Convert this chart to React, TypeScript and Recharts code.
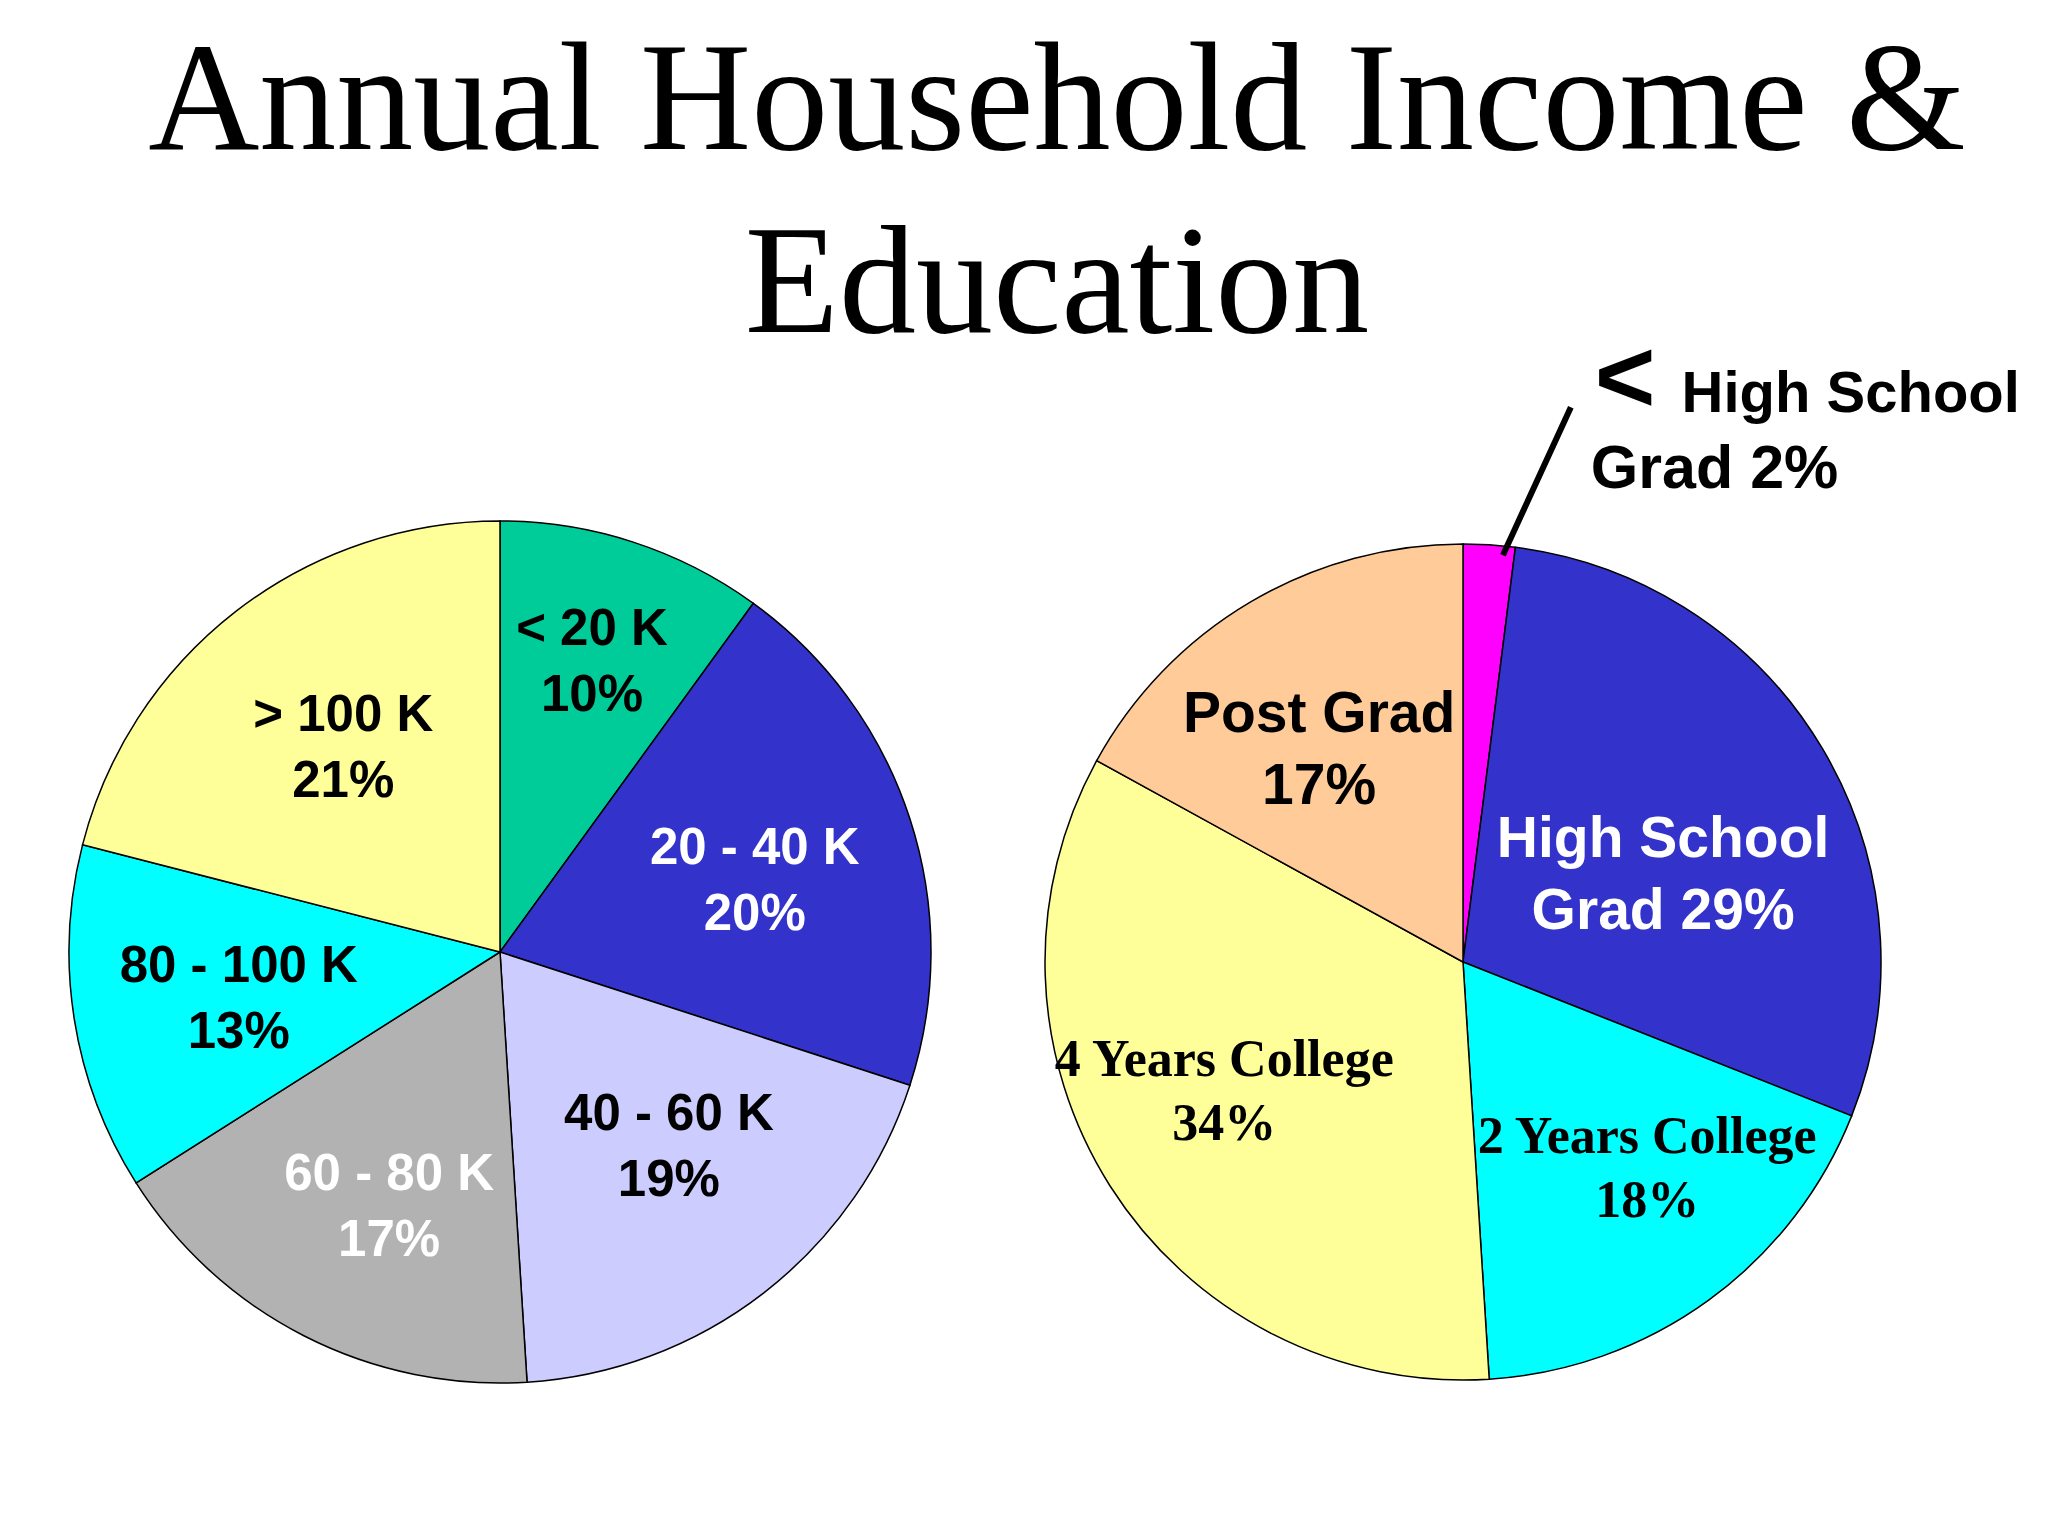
import React from "react";
import { PieChart, Pie, Cell } from "recharts";

// values (percent of respondents)
const incomeCategories = ["< 20 K", "20 - 40 K", "40 - 60 K", "60 - 80 K", "80 - 100 K", "> 100 K"];
const incomeValues = [10, 20, 19, 17, 13, 21];

const educationCategories = [
  "< High School Grad",
  "High School Grad",
  "2 Years College",
  "4 Years College",
  "Post Grad",
];
const educationValues = [2, 29, 18, 34, 17];

const titleLines = ["Annual Household Income &", "Education"];

// styles
const incomeColors = ["#00CC99", "#3333CC", "#CCCCFF", "#B2B2B2", "#00FFFF", "#FFFF99"];
const incomeTextColors = ["#000", "#fff", "#000", "#fff", "#000", "#000"];
const educationColors = ["#FF00FF", "#3333CC", "#00FFFF", "#FFFF99", "#FFCC99"];
const educationTextColors = ["#000", "#fff", "#000", "#000", "#000"];
const educationSerif = [false, false, true, true, false];

// label placement: fraction of radius, angle shift (deg, clockwise)
const incomeLabelPos = [
  { r: 0.71, da: -0.5 },
  { r: 0.615, da: 2.0 },
  { r: 0.595, da: -3.4 },
  { r: 0.64, da: -3.3 },
  { r: 0.615, da: -0.8 },
  { r: 0.6, da: 0.5 },
];
const educationLabelPos = [
  { r: 1.352, da: 7.4 },
  { r: 0.524, da: 6.6 },
  { r: 0.66, da: -5.9 },
  { r: 0.648, da: 4.2 },
  { r: 0.617, da: -3.3 },
];

const incomeData = incomeCategories.map((name, i) => ({ name, value: incomeValues[i] }));
const educationData = educationCategories.map((name, i) => ({ name, value: educationValues[i] }));

const SANS = "'Liberation Sans', Arial, sans-serif";
const SERIF = "'Liberation Serif', 'Times New Roman', serif";
const RAD = Math.PI / 180;

function polar(cx: number, cy: number, r: number, clockwiseDeg: number) {
  return { x: cx + r * Math.sin(clockwiseDeg * RAD), y: cy - r * Math.cos(clockwiseDeg * RAD) };
}

const incomeLabel = (props: any) => {
  const { cx, cy, midAngle, outerRadius, index, name, value } = props;
  const p = incomeLabelPos[index];
  const pt = polar(cx, cy, outerRadius * p.r, 90 - midAngle + p.da);
  const lh = 66;
  return (
    <text
      textAnchor="middle"
      fill={incomeTextColors[index]}
      fontFamily={SANS}
      fontWeight="bold"
      fontSize={51}
      dominantBaseline="central"
    >
      <tspan x={pt.x} y={pt.y - lh / 2}>{name}</tspan>
      <tspan x={pt.x} y={pt.y + lh / 2}>{value}%</tspan>
    </text>
  );
};

const educationLabel = (props: any) => {
  const { cx, cy, midAngle, outerRadius, index, name, value } = props;
  const p = educationLabelPos[index];
  const ang = 90 - midAngle;
  const pt = polar(cx, cy, outerRadius * p.r, ang + p.da);

  if (index === 0) {
    // small slice: leader line and text outside the pie
    const start = polar(cx, cy, outerRadius * 0.978, ang + 2.0);
    return (
      <g>
        <line x1={start.x} y1={start.y} x2={pt.x} y2={pt.y} stroke="#000" strokeWidth={6} />
        <text fill="#000" fontFamily={SANS} fontWeight="bold" fontSize={58}>
          <tspan x={pt.x + 24} y={pt.y + 5} fontSize={104}>{"<"}</tspan>
          <tspan dx={26}>{name.replace("< ", "").replace(" Grad", "")}</tspan>
          <tspan x={pt.x + 20} y={pt.y + 81} fontSize={61}>Grad {value}%</tspan>
        </text>
      </g>
    );
  }

  const serif = educationSerif[index];
  const lines = name.endsWith("School Grad")
    ? [name.replace(" Grad", ""), `Grad ${value}%`]
    : [name, `${value}%`];
  const lh = serif ? 64 : 72;
  return (
    <text
      textAnchor="middle"
      fill={educationTextColors[index]}
      fontFamily={serif ? SERIF : SANS}
      fontWeight="bold"
      fontSize={serif ? 52 : 57}
      dominantBaseline="central"
    >
      <tspan x={pt.x} y={pt.y - lh / 2}>{lines[0]}</tspan>
      <tspan x={pt.x} y={pt.y + lh / 2}>{lines[1]}</tspan>
    </text>
  );
};

export default function App() {
  return (
    <div style={{ position: "absolute", left: 0, top: 0, width: 2048, height: 1536, background: "#fff" }}>
      <div
        style={{
          position: "absolute",
          left: 57,
          top: 6,
          width: 2000,
          textAlign: "center",
          fontFamily: SERIF,
          fontSize: 154,
          lineHeight: "183px",
          color: "#000",
        }}
      >
        {titleLines.map((t) => (
          <div key={t}>{t}</div>
        ))}
      </div>
      <div style={{ position: "absolute", left: 0, top: 0 }}>
        <PieChart width={2048} height={1536} margin={{ top: 0, right: 0, bottom: 0, left: 0 }}>
          <Pie
            data={incomeData}
            dataKey="value"
            nameKey="name"
            cx={500}
            cy={952}
            outerRadius={431}
            startAngle={90}
            endAngle={-270}
            stroke="#000"
            strokeWidth={1.5}
            label={incomeLabel}
            labelLine={false}
            isAnimationActive={false}
          >
            {incomeData.map((d, i) => (
              <Cell key={d.name} fill={incomeColors[i]} />
            ))}
          </Pie>
          <Pie
            data={educationData}
            dataKey="value"
            nameKey="name"
            cx={1463}
            cy={962}
            outerRadius={418}
            startAngle={90}
            endAngle={-270}
            stroke="#000"
            strokeWidth={1.5}
            label={educationLabel}
            labelLine={false}
            isAnimationActive={false}
          >
            {educationData.map((d, i) => (
              <Cell key={d.name} fill={educationColors[i]} />
            ))}
          </Pie>
        </PieChart>
      </div>
    </div>
  );
}
